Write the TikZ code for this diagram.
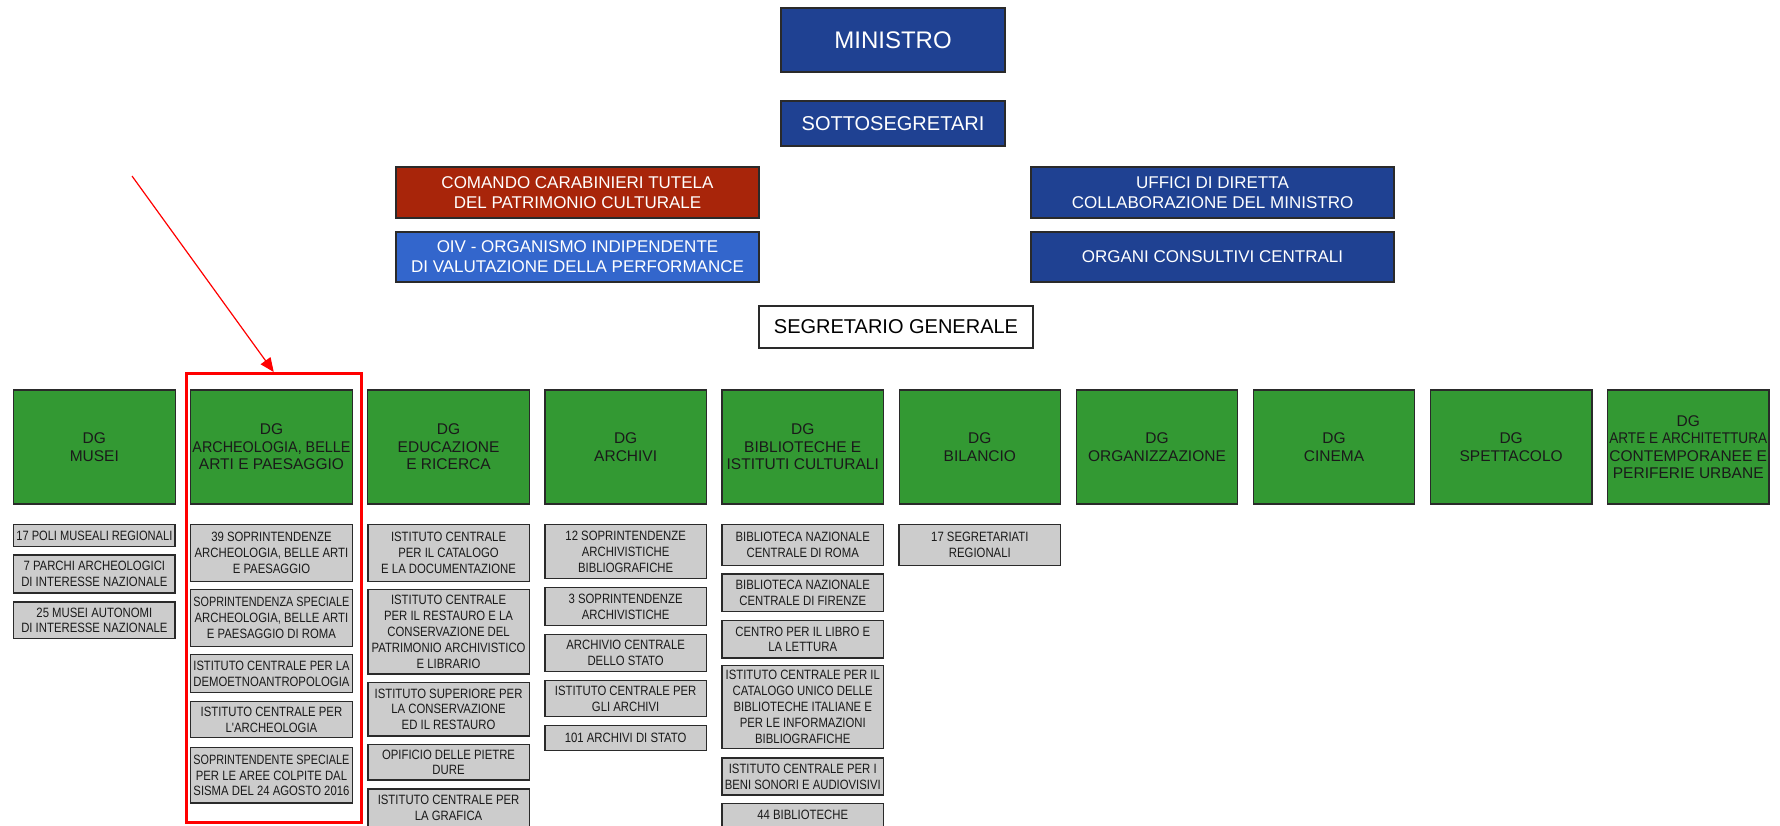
\documentclass[tikz,border=0pt]{standalone}
\usepackage{fontspec}
\setmainfont{Liberation Sans}
\newfontfamily\subfont[FakeStretch=0.84]{Liberation Sans}
\usepackage{graphicx}
\usetikzlibrary{arrows.meta}
\definecolor{navy}{HTML}{1F4192}
\definecolor{brick}{HTML}{A8250A}
\definecolor{oivblue}{HTML}{3366CC}
\definecolor{dggreen}{HTML}{339933}
\definecolor{subgray}{HTML}{CCCCCC}
\definecolor{edge}{HTML}{2A2A2A}
\definecolor{ink}{HTML}{1A1A1A}
\newsavebox\fitbox
\newcommand\fl[2][156]{\sbox\fitbox{#2}\ifdim\wd\fitbox>#1pt\relax\resizebox{#1pt}{\ht\fitbox}{\usebox\fitbox}\else\usebox\fitbox\fi}
\newcommand\gl[1]{\fl[158]{#1}}
\tikzset{
  topbox/.style={draw=edge, line width=1.6pt, inner sep=0pt, align=center, text=white},
  dgbox/.style={fill=dggreen, draw=edge, line width=1.2pt, minimum width=161.5pt, minimum height=114pt, inner sep=0pt, align=center, text=ink, font=\fontsize{15.5}{17.5}\selectfont},
  subbox/.style={fill=subgray, draw=edge, line width=1.4pt, minimum width=161.5pt, inner sep=0pt, align=center, text=ink, anchor=north, font=\subfont\fontsize{13.5}{15.8}\selectfont},
  highlight/.style={draw=red, line width=2.5pt, inner sep=0pt, anchor=north west},
  redarrow/.style={draw=red, line width=1.2pt, -{Triangle[length=14pt,width=12pt]}}
}
\begin{document}
\begin{tikzpicture}[x=1pt,y=-1pt]
\useasboundingbox (0,0) rectangle (1780,825);
% top
\node[topbox, fill=navy, minimum width=224pt, minimum height=64pt, font=\fontsize{24}{28}\selectfont] (ministro) at (893,40) {MINISTRO};
\node[topbox, fill=navy, minimum width=224pt, minimum height=45pt, font=\fontsize{20}{24}\selectfont] (sotto) at (893,123.5) {SOTTOSEGRETARI};
\node[topbox, fill=brick, minimum width=363pt, minimum height=51pt, font=\fontsize{17}{20}\selectfont] (comando) at (577.5,192.5) {COMANDO CARABINIERI TUTELA\\DEL PATRIMONIO CULTURALE};
\node[topbox, fill=oivblue, minimum width=363pt, minimum height=50pt, font=\fontsize{17}{20}\selectfont] (oiv) at (577.5,257) {OIV - ORGANISMO INDIPENDENTE\\DI VALUTAZIONE DELLA PERFORMANCE};
\node[topbox, fill=navy, minimum width=363pt, minimum height=51pt, font=\fontsize{17}{20}\selectfont] (uffici) at (1212.5,192.5) {UFFICI DI DIRETTA\\COLLABORAZIONE DEL MINISTRO};
\node[topbox, fill=navy, minimum width=363pt, minimum height=50pt, font=\fontsize{17}{20}\selectfont] (organi) at (1212.5,257) {ORGANI CONSULTIVI CENTRALI};
\node[topbox, fill=white, text=black, minimum width=274pt, minimum height=42pt, font=\fontsize{20}{24}\selectfont] (segr) at (896,327) {SEGRETARIO GENERALE};
% DG row
\node[dgbox] (dg0) at (94.35,447) {DG\\MUSEI};
\node[dgbox] (dg1) at (271.45,447) {DG\\\gl{ARCHEOLOGIA, BELLE}\\\gl{ARTI E PAESAGGIO}};
\node[dgbox] (dg2) at (448.55,447) {DG\\EDUCAZIONE\\E RICERCA};
\node[dgbox] (dg3) at (625.65,447) {DG\\ARCHIVI};
\node[dgbox] (dg4) at (802.75,447) {DG\\\gl{BIBLIOTECHE E}\\\gl{ISTITUTI CULTURALI}};
\node[dgbox] (dg5) at (979.85,447) {DG\\BILANCIO};
\node[dgbox] (dg6) at (1156.95,447) {DG\\\gl{ORGANIZZAZIONE}};
\node[dgbox] (dg7) at (1334.05,447) {DG\\CINEMA};
\node[dgbox] (dg8) at (1511.15,447) {DG\\SPETTACOLO};
\node[dgbox] (dg9) at (1688.25,447) {DG\\\gl{ARTE E ARCHITETTURA}\\\gl{CONTEMPORANEE E}\\\gl{PERIFERIE URBANE}};
% column 0
\node[subbox, minimum height=21.7pt] (m1) at (94.35,524) {\fl{17 POLI MUSEALI REGIONALI}};
\node[subbox, minimum height=38pt] (m2) at (94.35,554.3) {\fl{7 PARCHI ARCHEOLOGICI}\\\fl{DI INTERESSE NAZIONALE}};
\node[subbox, minimum height=36.7pt] (m3) at (94.35,601.3) {\fl{25 MUSEI AUTONOMI}\\\fl{DI INTERESSE NAZIONALE}};
% column 1
\node[subbox, minimum height=56.7pt] (a1) at (271.45,524) {\fl{39 SOPRINTENDENZE}\\\fl{ARCHEOLOGIA, BELLE ARTI}\\\fl{E PAESAGGIO}};
\node[subbox, minimum height=56.7pt] (a2) at (271.45,589) {\fl{SOPRINTENDENZA SPECIALE}\\\fl{ARCHEOLOGIA, BELLE ARTI}\\\fl{E PAESAGGIO DI ROMA}};
\node[subbox, minimum height=38.3pt] (a3) at (271.45,653.7) {\fl{ISTITUTO CENTRALE PER LA}\\\fl{DEMOETNOANTROPOLOGIA}};
\node[subbox, minimum height=36.3pt] (a4) at (271.45,700.7) {\fl{ISTITUTO CENTRALE PER}\\\fl{L'ARCHEOLOGIA}};
\node[subbox, minimum height=55.3pt] (a5) at (271.45,747) {\fl{SOPRINTENDENTE SPECIALE}\\\fl{PER LE AREE COLPITE DAL}\\\fl{SISMA DEL 24 AGOSTO 2016}};
% column 2
\node[subbox, minimum height=56.7pt] (e1) at (448.55,524) {\fl{ISTITUTO CENTRALE}\\\fl{PER IL CATALOGO}\\\fl{E LA DOCUMENTAZIONE}};
\node[subbox, minimum height=84.3pt] (e2) at (448.55,589) {\fl{ISTITUTO CENTRALE}\\\fl{PER IL RESTAURO E LA}\\\fl{CONSERVAZIONE DEL}\\\fl{PATRIMONIO ARCHIVISTICO}\\\fl{E LIBRARIO}};
\node[subbox, minimum height=53.6pt] (e3) at (448.55,681.7) {\fl{ISTITUTO SUPERIORE PER}\\\fl{LA CONSERVAZIONE}\\\fl{ED IL RESTAURO}};
\node[subbox, minimum height=35.3pt] (e4) at (448.55,744) {\fl{OPIFICIO DELLE PIETRE}\\\fl{DURE}};
\node[subbox, minimum height=38pt] (e5) at (448.55,788.3) {\fl{ISTITUTO CENTRALE PER}\\\fl{LA GRAFICA}};
% column 3
\node[subbox, minimum height=53.7pt] (r1) at (625.65,524) {\fl{12 SOPRINTENDENZE}\\\fl{ARCHIVISTICHE}\\\fl{BIBLIOGRAFICHE}};
\node[subbox, minimum height=38.3pt] (r2) at (625.65,586.7) {\fl{3 SOPRINTENDENZE}\\\fl{ARCHIVISTICHE}};
\node[subbox, minimum height=37pt] (r3) at (625.65,633.7) {\fl{ARCHIVIO CENTRALE}\\\fl{DELLO STATO}};
\node[subbox, minimum height=36.3pt] (r4) at (625.65,679.7) {\fl{ISTITUTO CENTRALE PER}\\\fl{GLI ARCHIVI}};
\node[subbox, minimum height=25pt] (r5) at (625.65,725) {\fl{101 ARCHIVI DI STATO}};
% column 4
\node[subbox, minimum height=41pt] (b1) at (802.75,524) {\fl{BIBLIOTECA NAZIONALE}\\\fl{CENTRALE DI ROMA}};
\node[subbox, minimum height=37.4pt] (b2) at (802.75,573.3) {\fl{BIBLIOTECA NAZIONALE}\\\fl{CENTRALE DI FIRENZE}};
\node[subbox, minimum height=37.3pt] (b3) at (802.75,620) {\fl{CENTRO PER IL LIBRO E}\\\fl{LA LETTURA}};
\node[subbox, minimum height=83pt] (b4) at (802.75,664.7) {\fl{ISTITUTO CENTRALE PER IL}\\\fl{CATALOGO UNICO DELLE}\\\fl{BIBLIOTECHE ITALIANE E}\\\fl{PER LE INFORMAZIONI}\\\fl{BIBLIOGRAFICHE}};
\node[subbox, minimum height=37pt] (b5) at (802.75,757.3) {\fl{ISTITUTO CENTRALE PER I}\\\fl{BENI SONORI E AUDIOVISIVI}};
\node[subbox, minimum height=38pt] (b6) at (802.75,802.7) {\fl{44 BIBLIOTECHE}\\\phantom{X}};
% column 5
\node[subbox, minimum height=41pt] (g1) at (979.85,524) {\fl{17 SEGRETARIATI}\\\fl{REGIONALI}};
% highlight and arrow
\node[highlight, minimum width=175pt, minimum height=449pt] (hl) at (185,372) {};
\coordinate (as) at (132,176);
\draw[redarrow] (as) -- (hl.north);
\end{tikzpicture}
\end{document}
